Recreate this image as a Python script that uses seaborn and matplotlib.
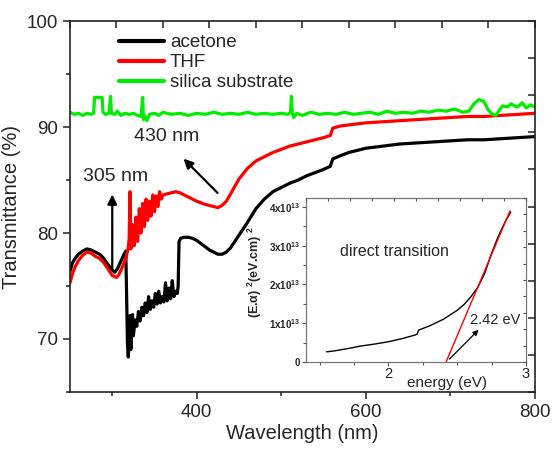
import numpy as np
import pandas as pd
import seaborn as sns
import matplotlib.pyplot as plt
from matplotlib.lines import Line2D
from matplotlib.ticker import MultipleLocator, FixedLocator, FuncFormatter

# -----------------------------
# Data
# -----------------------------
acetone_nm = [250, 253, 256, 260, 265, 270, 275, 280, 285, 290, 295, 300, 303, 306, 310, 314, 316,
              317, 318, 319, 320, 321, 322, 323, 324, 325, 327, 329, 331, 333, 335, 337, 339, 341,
              343, 345, 347, 349, 351, 353, 355, 357, 359, 361, 363, 365, 367, 369, 371, 373, 375,
              377, 378, 379, 381, 385, 390, 395, 400, 405, 410, 415, 420, 425, 430, 435, 440, 445,
              450, 455, 460, 470, 480, 490, 500, 510, 520, 530, 540, 550, 558, 561, 570, 580, 600,
              620, 640, 660, 680, 700, 720, 740, 760, 780, 800]
acetone_T = [76.4, 77.2, 77.6, 78.0, 78.3, 78.5, 78.4, 78.2, 78.0, 77.6, 77.0, 76.5, 76.3, 76.6, 77.3, 78.0, 78.3,
             74.0, 69.5, 68.3, 70.5, 72.2, 69.0, 71.5, 72.3, 70.3, 71.8, 71.2, 72.6, 71.7, 73.0, 72.2, 73.4, 72.5,
             74.0, 72.8, 73.6, 73.0, 74.3, 73.3, 74.5, 73.4, 74.0, 73.5, 75.3, 73.6, 74.8, 73.8, 75.5, 74.0, 74.5,
             74.3, 75.0, 79.2, 79.5, 79.6, 79.6, 79.5, 79.3, 79.0, 78.7, 78.4, 78.2, 78.0, 78.0, 78.2, 78.6, 79.2,
             79.8, 80.4, 81.0, 82.3, 83.2, 83.9, 84.3, 84.7, 85.0, 85.4, 85.7, 86.0, 86.3, 87.0, 87.3, 87.6, 88.0,
             88.2, 88.4, 88.5, 88.6, 88.7, 88.8, 88.8, 88.9, 89.0, 89.1]

thf_nm = [250, 253, 256, 260, 265, 270, 275, 280, 285, 290, 295, 300, 305, 308, 312, 316, 319, 320,
          321, 322, 324, 326, 328, 330, 332, 334, 336, 338, 340, 342, 344, 346, 348, 350, 352, 354,
          356, 358, 360, 365, 370, 375, 380, 385, 390, 400, 410, 420, 425, 430, 435, 440, 445, 450,
          460, 470, 480, 490, 500, 510, 520, 530, 540, 550, 558, 561, 570, 580, 600, 620, 640, 660,
          680, 700, 720, 740, 760, 780, 800]
thf_T = [75.3, 76.2, 76.8, 77.4, 77.9, 78.2, 78.1, 77.8, 77.6, 77.2, 76.6, 76.0, 75.8, 76.1, 76.8, 77.6, 78.6, 79.5,
         83.9, 78.5, 80.8, 78.8, 81.5, 79.2, 82.3, 80.0, 82.8, 80.6, 83.2, 81.2, 83.0, 81.6, 83.6, 82.0, 83.5, 82.5,
         83.9, 83.2, 83.6, 83.7, 83.8, 83.9, 83.8, 83.6, 83.4, 83.0, 82.7, 82.5, 82.4, 82.6, 83.0, 83.7, 84.4, 85.1,
         86.1, 86.8, 87.2, 87.6, 87.9, 88.2, 88.4, 88.6, 88.8, 89.0, 89.2, 89.9, 90.1, 90.2, 90.4, 90.5, 90.6, 90.7,
         90.8, 90.9, 91.0, 91.0, 91.1, 91.2, 91.3]

silica_nm = [250, 255, 260, 265, 270, 275, 278, 279, 285, 288, 289, 292, 296, 298, 299, 303, 306, 310,
             315, 320, 325, 330, 334, 336, 337, 339, 341, 344, 350, 355, 360, 370, 380, 390, 400, 410,
             420, 430, 440, 450, 460, 470, 480, 490, 500, 508, 511, 512, 513, 515, 518, 525, 535, 545,
             555, 565, 575, 585, 595, 605, 615, 625, 635, 645, 655, 665, 675, 685, 695, 705, 715, 722,
             728, 734, 740, 745, 750, 754, 758, 762, 768, 772, 776, 780, 785, 790, 795, 800]
silica_T = [91.4, 91.2, 91.3, 91.1, 91.3, 91.2, 91.3, 92.8, 92.8, 92.8, 91.4, 91.2, 91.3, 92.9, 91.3, 91.2, 91.5, 91.1,
            91.3, 91.2, 91.3, 91.1, 91.0, 92.8, 90.7, 91.0, 90.6, 91.2, 91.3, 91.1, 91.4, 91.2, 91.3, 91.1, 91.3, 91.2,
            91.4, 91.2, 91.3, 91.2, 91.4, 91.2, 91.3, 91.2, 91.3, 91.2, 91.4, 92.9, 91.3, 90.9, 91.3, 91.1, 91.4, 91.2,
            91.3, 91.2, 91.4, 91.2, 91.3, 91.4, 91.2, 91.5, 91.3, 91.4, 91.3, 91.5, 91.4, 91.6, 91.5, 91.7, 91.4, 91.5,
            92.2, 92.6, 92.4, 91.6, 91.2, 91.1, 91.6, 92.0, 91.9, 92.2, 92.0, 91.9, 92.3, 91.8, 92.1, 91.9]

# inset: Tauc plot, (E.alpha)^2 vs energy
energy_eV = [1.55, 1.60, 1.70, 1.80, 1.90, 2.00, 2.10, 2.20, 2.21, 2.22, 2.30, 2.40, 2.50,
             2.55, 2.60, 2.65, 2.70, 2.75, 2.80, 2.85, 2.89]
ealpha2 = [0.26e13, 0.28e13, 0.34e13, 0.41e13, 0.46e13, 0.52e13, 0.60e13, 0.70e13, 0.72e13, 0.82e13,
           0.93e13, 1.10e13, 1.33e13, 1.48e13, 1.68e13, 1.92e13, 2.28e13, 2.80e13, 3.25e13, 3.62e13, 3.87e13]
fit_eV = [2.42, 2.885]
fit_val = [0.0, 3.90e13]

# -----------------------------
# Style
# -----------------------------
sns.set_style("ticks")
plt.rcParams['font.family'] = ['Liberation Sans', 'DejaVu Sans']
plt.rcParams['mathtext.fontset'] = 'custom'
plt.rcParams['mathtext.rm'] = 'Liberation Sans'
plt.rcParams['mathtext.bf'] = 'Liberation Sans:bold'

FRAME = '#222222'
IN_FRAME = '#555555'


def mirror_ticks(a, n, frac_x, frac_y, color, lw):
    # inward ticks on the top and right edges, n divisions of each axis range
    xs = np.linspace(*a.get_xlim(), n + 1)
    ys = np.linspace(*a.get_ylim(), n + 1)
    a.vlines(xs, 1 - frac_y, 1, transform=a.get_xaxis_transform(),
             colors=color, linewidth=lw, clip_on=False, zorder=5)
    a.hlines(ys, 1 - frac_x, 1, transform=a.get_yaxis_transform(),
             colors=color, linewidth=lw, clip_on=False, zorder=5)


fig = plt.figure(figsize=(5.53, 4.49), dpi=100)
ax = fig.add_axes([0.1266, 0.127, 0.8404, 0.826])

frames = []
for name, xs, ys in [("acetone", acetone_nm, acetone_T),
                     ("THF", thf_nm, thf_T),
                     ("silica substrate", silica_nm, silica_T)]:
    frames.append(pd.DataFrame({"wavelength": xs, "T": ys, "sample": name}))
df = pd.concat(frames, ignore_index=True)

palette = {"acetone": "#000000", "THF": "#ff0000", "silica substrate": "#00ee00"}
sns.lineplot(data=df, x="wavelength", y="T", hue="sample", palette=palette,
             estimator=None, sort=False, linewidth=2.3, legend=False, ax=ax)

ax.set_xlim(250, 800)
ax.set_ylim(65, 100)
ax.xaxis.set_major_locator(FixedLocator([400, 600, 800]))
ax.xaxis.set_minor_locator(FixedLocator([300, 500, 700]))
ax.yaxis.set_major_locator(MultipleLocator(10))
ax.yaxis.set_minor_locator(MultipleLocator(5))
ax.tick_params(which='major', direction='out', length=5, width=1.1, labelsize=13.5, color=FRAME)
ax.tick_params(which='minor', direction='out', length=3, width=1.1, color=FRAME)
for s in ax.spines.values():
    s.set_color(FRAME)
    s.set_linewidth(1.2)
mirror_ticks(ax, 10, 0.015, 0.019, FRAME, 1.1)

ax.set_xlabel("Wavelength (nm)", fontsize=14.5, labelpad=2)
ax.set_ylabel("Transmittance (%)", fontsize=14.5, labelpad=4)

handles = [Line2D([], [], color=palette[k], lw=3) for k in palette]
ax.legend(handles, list(palette), loc='upper left', bbox_to_anchor=(0.09, 0.985),
          frameon=False, fontsize=13.5, handlelength=2.4, handletextpad=0.3,
          labelspacing=0.15, borderaxespad=0)

# annotations
ax.annotate("", xy=(300, 83.9), xytext=(300, 76.3),
            arrowprops=dict(arrowstyle="-|>", color='black', lw=1.6, mutation_scale=14))
ax.text(304, 85.3, "305 nm", fontsize=14, ha='center', va='center')
ax.annotate("", xy=(382, 87.2), xytext=(427, 83.6),
            arrowprops=dict(arrowstyle="-|>", color='black', lw=1.6, mutation_scale=14))
ax.text(364, 89.1, "430 nm", fontsize=14, ha='center', va='center')

# -----------------------------
# Inset
# -----------------------------
ax_in = fig.add_axes([0.553, 0.194, 0.398, 0.365])
sns.lineplot(x=energy_eV, y=ealpha2, color='black', linewidth=1.0, sort=False, estimator=None, ax=ax_in)
sns.lineplot(x=fit_eV, y=fit_val, color='#ff0000', linewidth=1.0, ax=ax_in)
ax_in.set_xlim(1.4, 3.0)
ax_in.set_ylim(0, 4.23e13)
ax_in.xaxis.set_major_locator(FixedLocator([2, 3]))
ax_in.xaxis.set_minor_locator(MultipleLocator(0.25))
ax_in.yaxis.set_major_locator(MultipleLocator(1e13))
ax_in.yaxis.set_minor_locator(MultipleLocator(0.5e13))
ax_in.yaxis.set_major_formatter(FuncFormatter(
    lambda v, p: "0" if abs(v) < 1 else r"$\mathbf{%dx10^{13}}$" % round(v / 1e13)))
for lab in ax_in.get_yticklabels():
    lab.set_fontweight('bold')
ax_in.tick_params(axis='y', which='major', direction='out', length=3, width=0.8, labelsize=7, pad=1, color=IN_FRAME)
ax_in.tick_params(axis='y', which='minor', direction='out', length=2, width=0.8, color=IN_FRAME)
ax_in.tick_params(axis='x', which='major', direction='out', length=3, width=0.8, labelsize=10.5, pad=1, color=IN_FRAME)
ax_in.tick_params(axis='x', which='minor', direction='out', length=2, width=0.8, color=IN_FRAME)
for s in ax_in.spines.values():
    s.set_color('#777777')
    s.set_linewidth(0.9)
mirror_ticks(ax_in, 10, 0.014, 0.02, IN_FRAME, 0.8)

ax_in.set_xlabel("energy (eV)", fontsize=11)
ax_in.xaxis.set_label_coords(0.64, -0.085)
ax_in.set_ylabel(r"(E.α) $^{\mathbf{2}}$(eV.cm) $^{\mathbf{2}}$", fontsize=9, fontweight='bold')
ax_in.yaxis.set_label_coords(-0.19, 0.55)
ax_in.text(1.65, 2.84e13, "direct transition", fontsize=11.5, va='center')
ax_in.annotate("", xy=(2.67, 0.88e13), xytext=(2.43, 0.02e13),
               arrowprops=dict(arrowstyle="-|>", color='black', lw=0.9, mutation_scale=8))
ax_in.text(2.59, 1.08e13, "2.42 eV", fontsize=10.5, va='center')

fig.savefig("out.png", dpi=100)
plt.close(fig)
